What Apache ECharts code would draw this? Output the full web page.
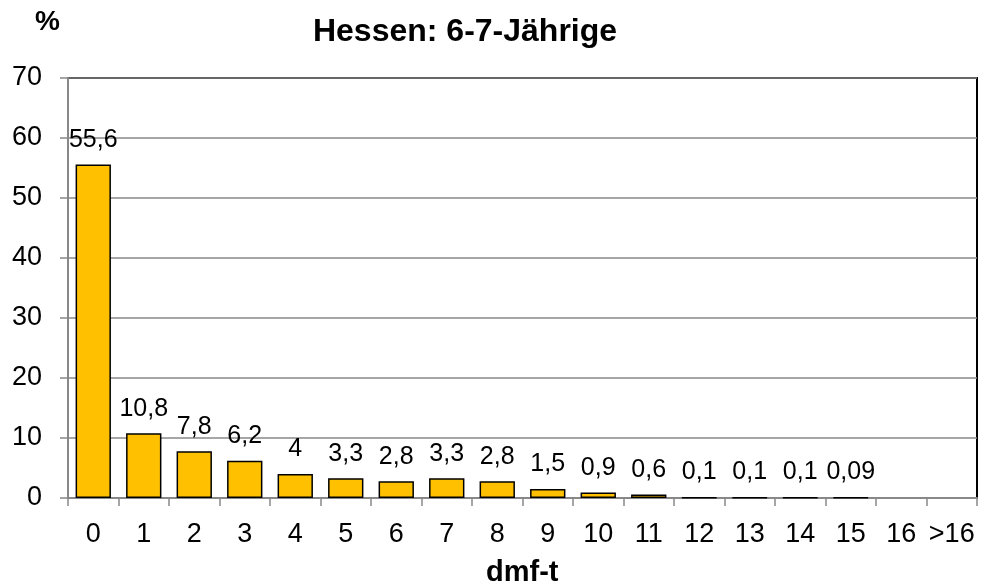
<!DOCTYPE html>
<html>
<head>
<meta charset="utf-8">
<script src="https://cdn.jsdelivr.net/npm/echarts@6/dist/echarts.min.js"></script>
<style>html,body{margin:0;padding:0;background:#fff}#c{width:981px;height:588px}</style>
</head>
<body>
<div id="c"></div>
<script>
const categories = ['0','1','2','3','4','5','6','7','8','9','10','11','12','13','14','15','16','>16'];
const values = [55.6, 10.8, 7.8, 6.2, 4, 3.3, 2.8, 3.3, 2.8, 1.5, 0.9, 0.6, 0.1, 0.1, 0.1, 0.09, null, null];
const valueLabels = ['55,6','10,8','7,8','6,2','4','3,3','2,8','3,3','2,8','1,5','0,9','0,6','0,1','0,1','0,1','0,09','',''];
const yTicks = [0, 10, 20, 30, 40, 50, 60, 70];

const font = '"Liberation Sans", Arial, sans-serif';
const chart = echarts.init(document.getElementById('c'), null, {renderer: 'canvas'});
chart.setOption({
  animation: false,
  backgroundColor: '#fff',
  title: {
    text: 'Hessen: 6-7-Jährige',
    left: 460, top: 11, textAlign: 'center',
    textStyle: {fontFamily: font, fontSize: 32, fontWeight: 'bold', color: '#000'}
  },
  graphic: [
    {type: 'text', left: 35, top: 8, style: {text: '%', font: 'bold 28px ' + font, fill: '#000'}},
    {type: 'text', left: 486, top: 558, style: {text: 'dmf-t', font: 'bold 29px ' + font, fill: '#000'}}
  ],
  grid: {left: 68, right: 4, top: 78, bottom: 90, show: true, borderColor: '#000', borderWidth: 2, backgroundColor: 'transparent'},
  xAxis: {
    type: 'category',
    data: categories,
    axisLine: {lineStyle: {color: '#888', width: 2}},
    axisTick: {show: true, length: 8, interval: 0, lineStyle: {color: '#888', width: 1.5}},
    axisLabel: {fontFamily: font, fontSize: 27, color: '#000', margin: 23, interval: 0, hideOverlap: false}
  },
  yAxis: {
    type: 'value', min: 0, max: 70, interval: 10,
    axisLine: {show: true, lineStyle: {color: '#888', width: 2}},
    axisTick: {show: true, length: 8, lineStyle: {color: '#888', width: 1.5}},
    splitLine: {lineStyle: {color: '#888', width: 1.5}},
    axisLabel: {fontFamily: font, fontSize: 27, color: '#000', margin: 26,
      formatter: v => yTicks.includes(v) ? String(v) : ''}
  },
  series: [{
    type: 'bar',
    data: values,
    barCategoryGap: '30%',
    itemStyle: {color: '#FFC000', borderColor: '#000', borderWidth: 1.5},
    label: {
      show: true, position: 'top', distance: 12,
      fontFamily: font, fontSize: 25, color: '#000',
      formatter: p => valueLabels[p.dataIndex]
    }
  }]
});
</script>
</body>
</html>
